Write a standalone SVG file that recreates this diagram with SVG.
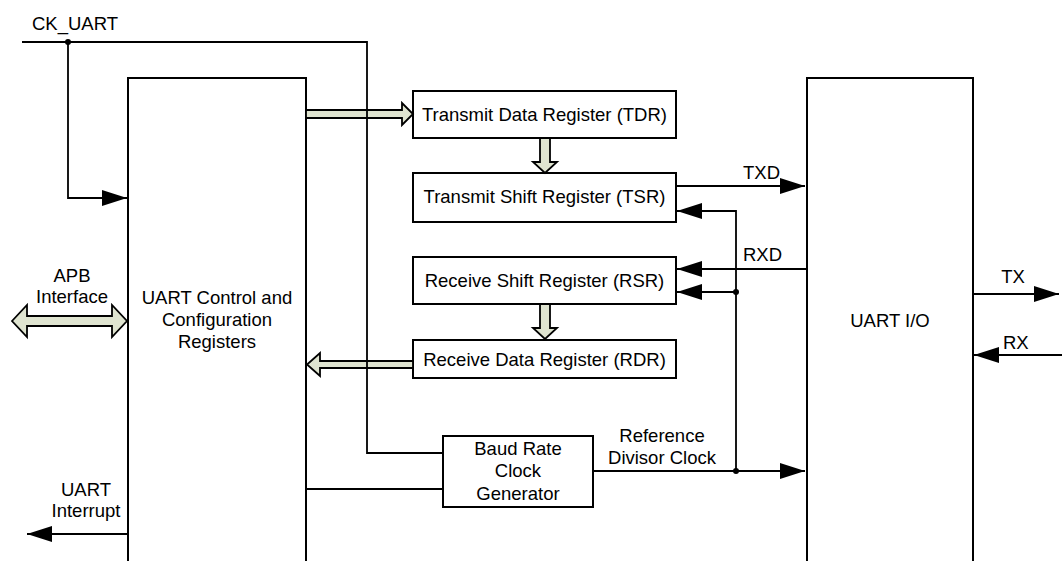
<svg xmlns="http://www.w3.org/2000/svg" width="1062" height="561" viewBox="0 0 1062 561">
<defs>
<marker id="ah" markerUnits="userSpaceOnUse" markerWidth="26" markerHeight="18" refX="25" refY="8" orient="auto"><path d="M0,0 L25,8 L0,16 z" fill="#000"/></marker>
<style>
text{font-family:"Liberation Sans",Arial,sans-serif;font-size:18.5px;fill:#000}
.box{fill:#fff;stroke:#000;stroke-width:2}
.w{fill:none;stroke:#000;stroke-width:1.8}
.ba{fill:#dfe4d0;stroke:#000;stroke-width:1.8;stroke-linejoin:miter}
.c{text-anchor:middle}
</style>
</defs>
<rect width="1062" height="561" fill="#fff"/>
<g id="ctrl"><path class="box" d="M128,565 V78 H306 V565"/>
<text class="c" x="217" y="304">UART Control and</text><text class="c" x="217" y="326">Configuration</text><text class="c" x="217" y="348">Registers</text></g>
<g id="uartio"><path class="box" d="M807,565 V78 H973 V565"/><text class="c" x="890" y="327">UART I/O</text></g>
<g id="tdr"><rect class="box" x="413" y="91" width="263" height="47"/><text class="c" x="544.5" y="121">Transmit Data Register (TDR)</text></g>
<g id="tsr"><rect class="box" x="413" y="173" width="263" height="49"/><text class="c" x="544.5" y="203">Transmit Shift Register (TSR)</text></g>
<g id="rsr"><rect class="box" x="413" y="257" width="263" height="47"/><text class="c" x="544.5" y="287">Receive Shift Register (RSR)</text></g>
<g id="rdr"><rect class="box" x="413" y="340" width="263" height="38"/><text class="c" x="544.5" y="366">Receive Data Register (RDR)</text></g>
<g id="baud"><rect class="box" x="443" y="436" width="150" height="71"/><text class="c" x="518" y="455">Baud Rate</text><text class="c" x="518" y="477">Clock</text><text class="c" x="518" y="500">Generator</text></g>
<g id="connectors">
<polygon class="ba" points="306,110 402,110 402,103 413,114 402,125 402,118 306,118"/>
<polygon class="ba" points="540,138 550,138 550,162 557,162 545,173 533,162 540,162"/>
<polygon class="ba" points="540,304 550,304 550,328 557,328 545,339 533,328 540,328"/>
<polygon class="ba" points="413,361 320,361 320,353 307,364.5 320,376 320,368 413,368"/>
<polygon class="ba" points="12,321 27,305 27,316 112,316 112,305 127,321 112,337 112,326 27,326 27,337"/>
<path class="w" d="M22,42 H367 V453 H443"/>
<path class="w" d="M68,42 V198 H127" marker-end="url(#ah)"/>
<path class="w" d="M306,489 H443"/>
<path class="w" d="M676,186 H805" marker-end="url(#ah)"/>
<path class="w" d="M807,269 H677" marker-end="url(#ah)"/>
<path class="w" d="M736,471 V211 H677" marker-end="url(#ah)"/>
<path class="w" d="M736,292 H677" marker-end="url(#ah)"/>
<path class="w" d="M593,471 H805" marker-end="url(#ah)"/>
<path class="w" d="M128,534 H27" marker-end="url(#ah)"/>
<path class="w" d="M973,294 H1059" marker-end="url(#ah)"/>
<path class="w" d="M1062,355 H974" marker-end="url(#ah)"/>
<circle cx="68" cy="42" r="3"/><circle cx="736" cy="292" r="3"/><circle cx="736" cy="471" r="3"/>
</g>
<g id="labels">
<text x="32" y="30">CK_UART</text>
<text class="c" x="72" y="282">APB</text><text class="c" x="72" y="303">Interface</text>
<text class="c" x="86" y="496">UART</text><text class="c" x="86" y="517">Interrupt</text>
<text x="743" y="179">TXD</text>
<text x="743" y="261">RXD</text>
<text class="c" x="662" y="442">Reference</text><text class="c" x="662" y="464">Divisor Clock</text>
<text class="c" x="1013" y="283">TX</text>
<text x="1003" y="349">RX</text>
</g>
</svg>
